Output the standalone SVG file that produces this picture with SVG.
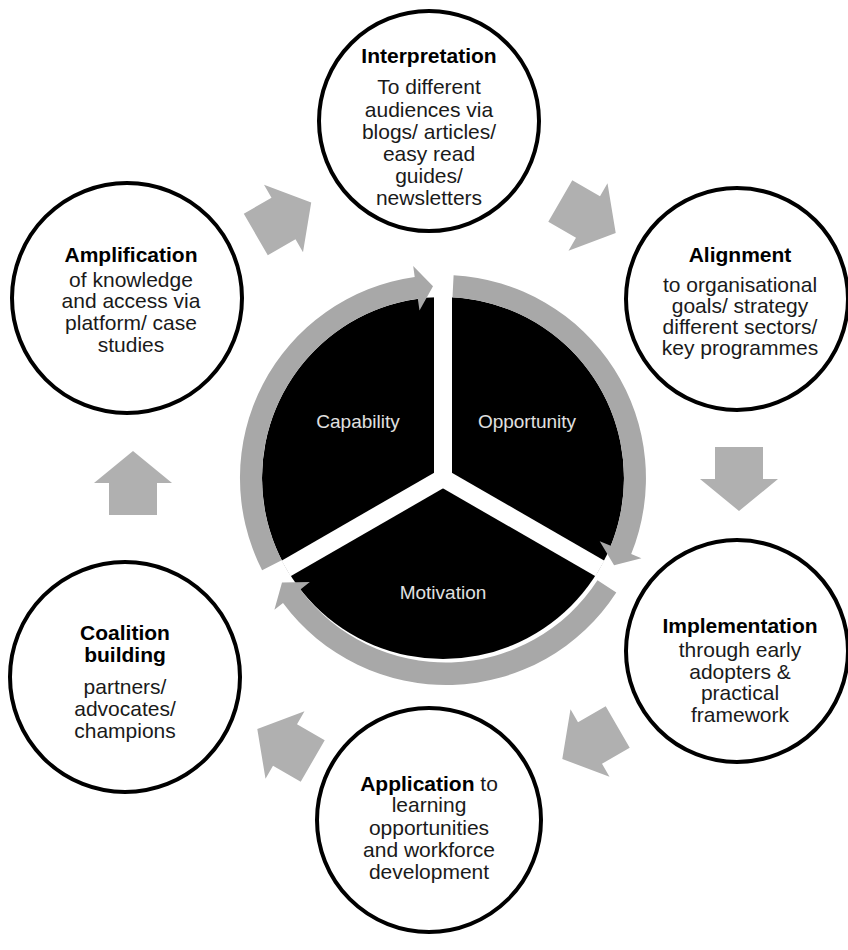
<svg xmlns="http://www.w3.org/2000/svg" width="848" height="950" viewBox="0 0 848 950">
<defs>
<style>
.node circle{fill:#fff;stroke:#000;stroke-width:4}
.t{font-family:"Liberation Sans",Arial,sans-serif;font-size:21px;fill:#1a1a1a;text-anchor:middle}
.b{font-weight:bold;fill:#000}
.c{font-family:"Liberation Sans",Arial,sans-serif;font-size:19px;fill:#e0e0e0;text-anchor:middle}
.ring{fill:#a8a8a8}
.blk{fill:#b0b0b0}
</style>
<polygon id="ba" points="-32,-24 0,-24 0,-39 32,0 0,39 0,24 -32,24"/>
</defs>
<rect width="848" height="950" fill="#fff"/>

<g id="connectors">
<use href="#ba" class="blk" transform="translate(283.5,218.5) rotate(-30)"/>
<use href="#ba" class="blk" transform="translate(588,217) rotate(30)"/>
<use href="#ba" class="blk" transform="translate(739,479) rotate(90)"/>
<use href="#ba" class="blk" transform="translate(590,743) rotate(150)"/>
<use href="#ba" class="blk" transform="translate(285,745) rotate(210)"/>
<use href="#ba" class="blk" transform="translate(133,483) rotate(-90)"/>
</g>

<g id="center">
<circle cx="443" cy="478" r="181" fill="#000"/>
<g stroke="#fff" stroke-width="18">
<line x1="443" y1="478" x2="443" y2="296"/>
<line x1="443" y1="478" x2="600" y2="568.5"/>
<line x1="443" y1="478" x2="286" y2="568.5"/>
</g>
<path class="ring" d="M281.7,560.2 L262.1,570.2 A203,203 0 0 1 414.7,277.0 L413.2,266.1 L433.0,286.3 L419.5,310.6 L417.8,298.8 A181,181 0 0 0 281.7,560.2 Z"/>
<path class="ring" d="M452.5,297.3 L453.6,275.3 A203,203 0 0 1 631.2,554.0 L641.4,558.2 L614.1,565.2 L599.7,541.3 L610.8,545.8 A181,181 0 0 0 452.5,297.3 Z"/>
<path class="ring" d="M597.5,580.3 L616.3,592.6 A203,203 0 0 1 283.0,603.0 L274.4,609.8 L282.0,582.6 L309.8,582.1 L300.4,589.4 A181,181 0 0 0 597.5,580.3 Z"/>
<text class="c" x="358" y="428">Capability</text>
<text class="c" x="527" y="428">Opportunity</text>
<text class="c" x="443" y="599">Motivation</text>
</g>

<g id="interpretation" class="node">
<circle cx="429" cy="121" r="110"/>
<text class="t b" x="429" y="63">Interpretation</text>
<text class="t" x="429" y="94">To different</text>
<text class="t" x="429" y="117">audiences via</text>
<text class="t" x="429" y="139">blogs/ articles/</text>
<text class="t" x="429" y="161">easy read</text>
<text class="t" x="429" y="183">guides/</text>
<text class="t" x="429" y="205">newsletters</text>
</g>

<g id="alignment" class="node">
<circle cx="737" cy="299" r="111"/>
<text class="t b" x="740" y="262">Alignment</text>
<text class="t" x="740" y="292">to organisational</text>
<text class="t" x="740" y="313">goals/ strategy</text>
<text class="t" x="740" y="334">different sectors/</text>
<text class="t" x="740" y="355">key programmes</text>
</g>

<g id="implementation" class="node">
<circle cx="737" cy="651" r="111"/>
<text class="t b" x="740" y="633">Implementation</text>
<text class="t" x="740" y="657">through  early</text>
<text class="t" x="740" y="679">adopters &amp;</text>
<text class="t" x="740" y="700">practical</text>
<text class="t" x="740" y="722">framework</text>
</g>

<g id="application" class="node">
<circle cx="429" cy="820" r="112"/>
<text class="t" x="429" y="791"><tspan class="b">Application</tspan> to</text>
<text class="t" x="429" y="812">learning</text>
<text class="t" x="429" y="835">opportunities</text>
<text class="t" x="429" y="857">and workforce</text>
<text class="t" x="429" y="879">development</text>
</g>

<g id="coalition" class="node">
<circle cx="125" cy="677" r="115"/>
<text class="t b" x="125" y="640">Coalition</text>
<text class="t b" x="125" y="662">building</text>
<text class="t" x="125" y="694">partners/</text>
<text class="t" x="125" y="716">advocates/</text>
<text class="t" x="125" y="738">champions</text>
</g>

<g id="amplification" class="node">
<circle cx="127" cy="298" r="115"/>
<text class="t b" x="131" y="262">Amplification</text>
<text class="t" x="131" y="287">of knowledge</text>
<text class="t" x="131" y="308">and access via</text>
<text class="t" x="131" y="330">platform/  case</text>
<text class="t" x="131" y="352">studies</text>
</g>
</svg>
